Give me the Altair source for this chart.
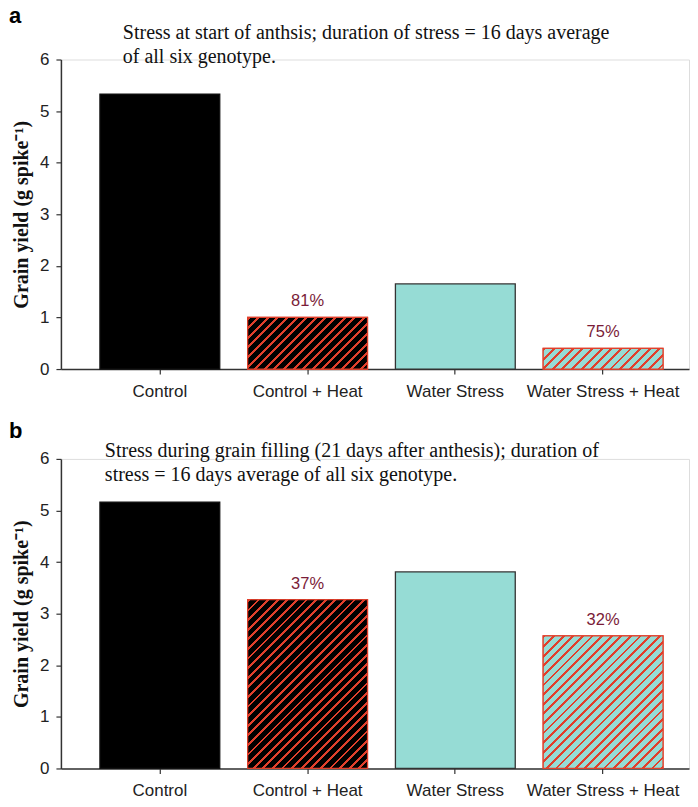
import math
import altair as alt
import pandas as pd

categories = ["Control", "Control + Heat", "Water Stress", "Water Stress + Heat"]
yield_a = [5.33, 1.00, 1.65, 0.40]
yield_b = [5.16, 3.27, 3.81, 2.57]
pct_a = ["", "81%", "", "75%"]
pct_b = ["", "37%", "", "32%"]
fills = ["#000000", "#000000", "#96dcd5", "#96dcd5"]
strokes = ["#111111", "#e0402c", "#333333", "#e0402c"]
hatched = [False, True, False, True]
title_a = ["Stress at start of anthsis; duration of stress = 16 days average",
           "of all six genotype."]
title_b = ["Stress during grain filling (21 days after anthesis); duration of",
           "stress = 16 days average of all six genotype."]
y_ticks = [0, 1, 2, 3, 4, 5, 6]

W, H = 629, 310
P_IN, P_OUT, ALIGN = 0.189, 0.22, 0.6
STEP = W / (len(categories) - P_IN + 2 * P_OUT)
BW = STEP * (1 - P_IN)
RED = "#e0402c"
SANS = "Liberation Sans"
SERIF = "Liberation Serif"


def hatch(w, h, base, line, period=6.8, frac=0.3):
    L = (w + h) / math.sqrt(2)
    n = L / period
    stops = []
    k = 0
    while k / n < 1:
        o0 = k / n
        o1 = min((k + frac) / n, 1)
        o2 = min((k + 1) / n, 1)
        stops += [alt.GradientStop(offset=o0, color=line),
                  alt.GradientStop(offset=o1, color=line),
                  alt.GradientStop(offset=o1, color=base),
                  alt.GradientStop(offset=o2, color=base)]
        k += 1
    k2 = (w + h) / (w * w + h * h)
    return alt.LinearGradient(gradient="linear", stops=stops,
                              x1=0, y1=0, x2=w * k2, y2=h * k2)


def panel(values, pcts, lines, letter, letter_y, line_x, line_y):
    df = pd.DataFrame({"cat": categories, "v": values, "pct": pcts,
                       "fill": fills, "stroke": strokes})
    x = alt.X("cat:N", sort=categories, title=None,
              scale=alt.Scale(paddingInner=P_IN, paddingOuter=P_OUT, align=ALIGN),
              axis=alt.Axis(labelAngle=0, labelFont=SANS, labelFontSize=17,
                            labelColor="#222", labelPadding=9, tickSize=5,
                            tickColor="#333", domainColor="#333", domainWidth=1.5,
                            tickWidth=1.2))
    y = alt.Y("v:Q", title="Grain yield (g spike⁻¹)",
              scale=alt.Scale(domain=[0, 6], nice=False),
              axis=alt.Axis(values=y_ticks, grid=False, labelFont=SANS,
                            labelFontSize=17, labelColor="#222", labelPadding=7,
                            tickSize=5, tickColor="#333", domainColor="#333",
                            domainWidth=1.5, tickWidth=1.2,
                            titleFont=SERIF, titleFontSize=20, titleFontWeight="bold",
                            titleColor="#111", titlePadding=8))
    base = alt.Chart(df).encode(x=x, y=y)
    bars = base.mark_bar(strokeWidth=1.3).encode(
        fill=alt.Fill("fill:N", scale=None),
        stroke=alt.Stroke("stroke:N", scale=None))
    layers = [bars]
    for c, v, f, hflag in zip(categories, values, fills, hatched):
        if not hflag:
            continue
        h = v * H / 6
        layers.append(base.transform_filter(alt.datum.cat == c).mark_bar(
            fill=hatch(BW, h, f, RED), stroke=RED, strokeWidth=1.2))
    labels = base.mark_text(dy=-16, baseline="middle", font=SANS, fontSize=16.5,
                            color="#7a1c38").encode(text="pct:N")
    layers.append(labels)
    one = pd.DataFrame({"k": [0]})
    head = alt.Chart(one).mark_text(text=lines, lineHeight=24.5, align="left",
                                    baseline="alphabetic", font=SERIF, fontSize=20,
                                    color="#111").encode(
        x=alt.value(line_x), y=alt.value(line_y))
    let = alt.Chart(one).mark_text(text=letter, align="left", baseline="alphabetic",
                                   font=SANS, fontSize=22, fontWeight="bold",
                                   color="#000").encode(
        x=alt.value(-52), y=alt.value(letter_y))
    layers += [head, let]
    return alt.layer(*layers).properties(width=W, height=H)


pa = panel(yield_a, pct_a, title_a, "a", -37, 62, -21)
pb = panel(yield_b, pct_b, title_b, "b", -21, 44, -2)

chart = alt.vconcat(pa, pb, spacing=90).properties(
    bounds="flush", padding={"left": 0, "top": -5, "right": 0, "bottom": 0}
).configure_view(stroke=None).configure(background="white")

chart.save("out.html", embed_options={"renderer": "svg", "actions": False})
